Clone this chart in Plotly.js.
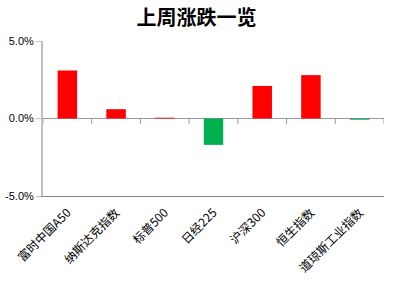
<!DOCTYPE html>
<html><head><meta charset="utf-8">
<script src="https://cdn.plot.ly/plotly-3.0.1.min.js"></script>
<style>html,body{margin:0;padding:0;background:#fff}#c{width:393px;height:282px}</style>
</head><body><div id="c"></div>
<script>
const categories = ["富时中国A50","纳斯达克指数","标普500","日经225","沪深300","恒生指数","道琼斯工业指数"];
const changes = [3.1, 0.6, 0.05, -1.7, 2.1, 2.8, -0.08];
const yTicks = [-5, 0, 5];
const yTickLabels = ["-5.0%", "0.0%", "5.0%"];

const colors = changes.map(v => v >= 0 ? "#FF0000" : "#00B050");
const idx = categories.map((_, i) => i);
const shapes = [];
for (let i = 0; i <= categories.length; i++) {
  shapes.push({type:"line", xref:"x", yref:"y", x0:i-0.5, x1:i-0.5, y0:0, y1:-0.35,
    line:{color:"#999", width:1}});
}
const data = [{
  type:"bar", x: idx, y: changes, marker:{color: colors, line:{width:0}},
  width: 0.4, hoverinfo:"none"
}];
const layout = {
  width:393, height:282,
  margin:{l:43, r:9, t:41, b:86},
  paper_bgcolor:"#fff", plot_bgcolor:"#fff",
  title:{text:"<b>上周涨跌一览</b>", x:0.5, xanchor:"center", y:0.935, yanchor:"middle",
    font:{family:"Noto Sans CJK SC", size:20, color:"#000"}},
  showlegend:false,
  xaxis:{range:[-0.5, categories.length-0.5], tickmode:"array", tickvals:idx, ticktext:categories,
    tickangle:-45, showgrid:false, showline:true, linecolor:"#888", linewidth:1, zeroline:false, ticks:"",
    ticklabelstandoff:4,
    tickfont:{family:"Noto Sans CJK SC", size:12, color:"#000"}, fixedrange:true},
  yaxis:{range:[-5, 5], tickmode:"array", tickvals:yTicks, ticktext:yTickLabels,
    showgrid:true, gridcolor:"#c0c0c0", gridwidth:1,
    zeroline:true, zerolinecolor:"#999", zerolinewidth:1,
    showline:true, linecolor:"#c0c0c0", linewidth:2,
    ticks:"outside", ticklen:5, tickcolor:"#c0c0c0",
    tickfont:{family:"Liberation Sans", size:11, color:"#000"}, fixedrange:true},
  shapes: shapes
};
Plotly.newPlot("c", data, layout, {staticPlot:true, displayModeBar:false});
</script></body></html>
